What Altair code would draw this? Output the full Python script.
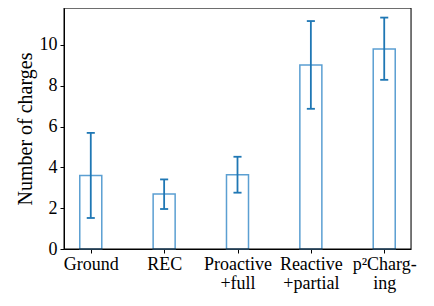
import altair as alt
import pandas as pd

categories = ["Ground", "REC", "Proactive\n+full", "Reactive\n+partial", "p²Charg-\ning"]
means = [3.60, 2.69, 3.64, 9.02, 9.80]
lows = [1.52, 1.96, 2.76, 6.87, 8.29]
highs = [5.69, 3.41, 4.52, 11.17, 11.34]

idx = list(range(len(categories)))
df = pd.DataFrame({
    "i": idx,
    "cat": categories,
    "mean": means,
    "lo": lows,
    "hi": highs,
})
df["x0"] = df["i"] - 0.15
df["x1"] = df["i"] + 0.15
df["c0"] = df["i"] - 0.055
df["c1"] = df["i"] + 0.055
df["zero"] = 0.0

label_list = "[" + ",".join(
    "[" + ",".join("'" + p + "'" for p in c.split("\n")) + "]" for c in categories
) + "]"

FONT = "Liberation Serif"
W, H = 347, 241

xscale = alt.Scale(domain=[-0.365, 4.365], nice=False, zero=False)
yscale = alt.Scale(domain=[0, 11.81], nice=False)

xaxis = alt.Axis(values=idx, labelExpr=label_list + "[datum.value]", title=None,
                 grid=False, tickSize=4, labelPadding=2, labelFontSize=18,
                 labelFont=FONT, labelColor="black", labelLineHeight=19,
                 domainColor="black", tickColor="black", labelAngle=0,
                 labelBaseline="top")
yaxis = alt.Axis(values=[0, 2, 4, 6, 8, 10], title="Number of charges", grid=False,
                 tickSize=4, labelPadding=3, labelFontSize=18, labelFont=FONT,
                 labelColor="black", titleFont=FONT, titleFontSize=20,
                 titleFontWeight="normal", titleColor="black", titlePadding=4,
                 domainColor="black", tickColor="black")

base = alt.Chart(df)

bars = base.mark_rect(fill="white", stroke="#5b9fd2", strokeWidth=1.5).encode(
    x=alt.X("x0:Q", scale=xscale, axis=xaxis),
    x2="x1:Q",
    y=alt.Y("zero:Q", scale=yscale, axis=yaxis),
    y2="mean:Q",
)

err = base.mark_rule(color="#1f77b4", strokeWidth=1.8).encode(
    x=alt.X("i:Q", scale=xscale),
    y=alt.Y("lo:Q", scale=yscale),
    y2="hi:Q",
)

cap_lo = base.mark_rule(color="#1f77b4", strokeWidth=1.8).encode(
    x=alt.X("c0:Q", scale=xscale),
    x2="c1:Q",
    y=alt.Y("lo:Q", scale=yscale),
)
cap_hi = base.mark_rule(color="#1f77b4", strokeWidth=1.8).encode(
    x=alt.X("c0:Q", scale=xscale),
    x2="c1:Q",
    y=alt.Y("hi:Q", scale=yscale),
)

frame = alt.Chart(pd.DataFrame({"a": [0]})).mark_rect(
    fill=None, fillOpacity=0, stroke="black", strokeWidth=1
).encode(
    x=alt.value(0), x2=alt.value(W), y=alt.value(0), y2=alt.value(H)
)

chart = alt.layer(bars, err, cap_lo, cap_hi, frame).properties(
    width=W, height=H,
    autosize=alt.AutoSizeParams(type="none"),
    padding={"left": 56, "top": 0, "right": 15, "bottom": 49},
).configure_view(stroke=None).configure(background="white", font=FONT).configure_axis(
    labelFont=FONT, titleFont=FONT
)

chart.save("out.html", embed_options={"renderer": "svg", "actions": False})
